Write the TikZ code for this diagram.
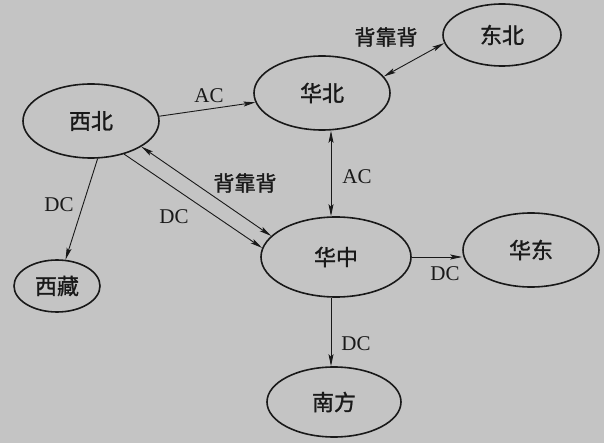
\documentclass[tikz,border=0pt]{standalone}
\usepackage{fontspec}
\setmainfont{Liberation Serif}
\newfontfamily\cjk{Noto Sans CJK SC}[FakeBold=1.2]
\usetikzlibrary{shapes.geometric,arrows.meta}
\definecolor{bgc}{RGB}{196,196,196}
\definecolor{ink}{RGB}{25,25,25}
\tikzset{
  region/.style={ellipse,draw=ink,line width=1.6pt,inner sep=0pt,text=ink,
     font=\cjk\fontsize{22}{22}\selectfont},
  tip/.tip={Stealth[length=12pt,width=5pt,inset=2.5pt]},
  link/.style={draw=ink,line width=0.9pt,-tip},
  blink/.style={draw=ink,line width=0.9pt,tip-tip},
  lab/.style={text=ink,inner sep=0pt,font=\fontsize{21}{21}\selectfont},
  clab/.style={text=ink,inner sep=0pt,font=\cjk\fontsize{21}{21}\selectfont}
}
\begin{document}
\begin{tikzpicture}[x=1pt,y=-1pt]
\fill[bgc] (0,0) rectangle (604,443);
\useasboundingbox (0,0) rectangle (604,443);
\node[region,minimum width=136pt,minimum height=74pt] (xb) at (91,121) {西北};
\node[region,minimum width=136pt,minimum height=74pt] (hb) at (322,93) {华北};
\node[region,minimum width=118pt,minimum height=62pt] (db) at (502,35) {东北};
\node[region,minimum width=150pt,minimum height=80pt] (hz) at (336,257) {华中};
\node[region,minimum width=86pt,minimum height=52pt] (xz) at (57,286) {西藏};
\node[region,minimum width=136pt,minimum height=74pt] (hd) at (531,250) {华东};
\node[region,minimum width=134pt,minimum height=70pt] (nf) at (334,402) {南方};
\coordinate (vx) at (331,0);
% connectors
\draw[link] (xb.4) -- (hb.188);
\draw[blink] (hb.15) -- (db.188);
\draw[blink] (vx |- hb.south) -- (vx |- hz.north);
\draw[blink] (xb.-27) -- (hz.162);
\draw[link] (xb.-45) -- (hz.173);
\draw[link] (xb.-80) -- (xz.72);
\draw[link] (hz.east) -- (hz.east -| hd.west);
\draw[link] (vx |- hz.south) -- (vx |- nf.north);
% labels
\node[lab] (l1) at (209,96) {AC};
\node[clab] (l2) at (386,37) {背靠背};
\node[lab] (l3) at (357,177) {AC};
\node[clab] (l4) at (245,183) {背靠背};
\node[lab] (l5) at (174,217) {DC};
\node[lab] (l6) at (59,205) {DC};
\node[lab] (l7) at (445,274) {DC};
\node[lab] (l8) at (356,344) {DC};
\end{tikzpicture}
\end{document}
